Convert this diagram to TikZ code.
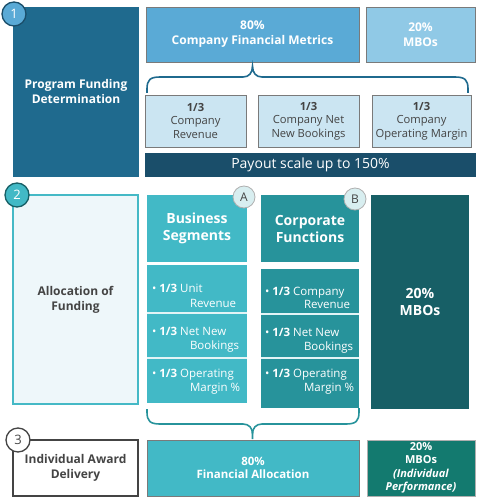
\documentclass[tikz,border=0pt]{standalone}
\usepackage{fontspec}
\setmainfont{Open Sans}
\newcommand{\myfs}[2]{\fontsize{#1}{#2}\selectfont}
\definecolor{pfblue}{HTML}{1F6A8E}
\definecolor{fmblue}{HTML}{5AAAD6}
\definecolor{mbblue}{HTML}{90C9E6}
\definecolor{subblue}{HTML}{CBE5F2}
\definecolor{payblue}{HTML}{1A4E6A}
\definecolor{afill}{HTML}{EEF7FA}
\definecolor{aborder}{HTML}{45B9C6}
\definecolor{segteal}{HTML}{42B9C6}
\definecolor{corpteal}{HTML}{27939B}
\definecolor{mbteal}{HTML}{175F66}
\definecolor{mbgreen}{HTML}{137A6F}
\definecolor{circfill}{HTML}{D8EEF0}
\definecolor{darktext}{HTML}{444444}
\definecolor{gborder}{HTML}{7A7A7A}
\begin{document}
\begin{tikzpicture}[x=1pt,y=-1pt,
  every node/.style={inner sep=0pt, outer sep=0pt, align=center},
  pfbox/.style={fill=pfblue, text=white, font=\bfseries\myfs{12}{15}},
  fmbox/.style={fill=fmblue, draw=gborder, line width=0.8pt, text=white, font=\bfseries\myfs{12}{15}},
  mbbox/.style={fill=mbblue, draw=gborder, line width=0.8pt, text=white, font=\bfseries\myfs{12}{15}},
  subbox/.style={fill=subblue, draw=gborder, line width=0.8pt, text=darktext, font=\myfs{11.2}{13.5}},
  paybox/.style={fill=payblue, text=white, font=\myfs{14}{16}},
  afbox/.style={fill=afill, draw=aborder, line width=1.2pt, text=darktext, font=\bfseries\myfs{12}{15}},
  seghead/.style={fill=segteal, text=white, font=\bfseries\myfs{14}{17}},
  corphead/.style={fill=corpteal, text=white, font=\bfseries\myfs{14}{17}},
  segitems/.style={fill=segteal},
  corpitems/.style={fill=corpteal},
  mbtealbox/.style={fill=mbteal, text=white, font=\bfseries\myfs{14}{17}},
  iadbox/.style={fill=white, draw=darktext, line width=1.2pt, text=darktext, font=\bfseries\myfs{12}{15}},
  fabox/.style={fill=segteal, draw=gborder, line width=0.8pt, text=white, font=\bfseries\myfs{11.5}{13.5}},
  mbgbox/.style={fill=mbgreen, draw=gborder!60, line width=0.8pt, text=white, font=\bfseries\myfs{11}{13.5}},
  itemtext/.style={anchor=base west, text=white, font=\myfs{11.5}{14}},
  divider/.style={draw=white!85!segteal, line width=1.2pt},
  numcirc/.style={circle, minimum size=24pt, line width=1.3pt, font=\myfs{13}{13}},
  letcirc/.style={circle, minimum size=22pt, fill=circfill, draw=gborder!60, line width=0.8pt, text=darktext, font=\myfs{12}{12}},
  brace1/.style={draw=pfblue, line width=1.6pt},
  brace2/.style={draw=corpteal, line width=1.6pt}
]
\useasboundingbox (0,0) rectangle (476,497);

% ---------- Section 1 ----------
\node[pfbox, minimum width=126pt, minimum height=170pt] (pf) at (76,92) {Program Funding\\Determination};
\node[fmbox, minimum width=213pt, minimum height=55pt] (fm) at (252.5,34.5) {80\%\\Company Financial Metrics};
\node[mbbox, minimum width=109pt, minimum height=55pt] (mb1) at (420.5,34.5) {20\%\\MBOs};
\node[subbox, minimum width=101pt, minimum height=52pt] (s1) at (195.5,121) {\textbf{1/3}\\Company\\Revenue};
\node[subbox, minimum width=101pt, minimum height=52pt] (s2) at (308.5,121) {\textbf{1/3}\\Company Net\\New Bookings};
\node[subbox, minimum width=99pt, minimum height=52pt] (s3) at (421.5,121) {\textbf{1/3}\\Company\\Operating Margin};
\node[paybox, minimum width=331pt, minimum height=24pt] (pay) at (310.5,165) {Payout scale up to 150\%};

\coordinate (b1l) at (147,93);
\coordinate (b1t) at (252.5,66);
\coordinate (b1r) at (468,93);
\draw[brace1] (b1l) -- (147,89) .. controls (147,80) and (150,77) .. (160,77) -- (243,77)
  .. controls (249,77) and (252.5,73) .. (b1t)
  .. controls (252.5,73) and (256,77) .. (262,77) -- (455,77)
  .. controls (465,77) and (468,80) .. (468,89) -- (b1r);

\node[numcirc, fill=fmblue, draw=payblue, text=white] (c1) at (14,14) {1};

% ---------- Section 2 ----------
\node[afbox, minimum width=125pt, minimum height=209pt] (af) at (75.5,299.5) {Allocation of\\Funding};
\node[seghead, minimum width=100pt, minimum height=67pt] (bsh) at (197,228.5) {Business\\Segments};
\node[segitems, minimum width=100pt, minimum height=138pt] (bsi) at (197,334) {};
\node[corphead, minimum width=98pt, minimum height=67pt] (cfh) at (310,228.5) {Corporate\\Functions};
\node[corpitems, minimum width=98pt, minimum height=139pt] (cfi) at (310,338.5) {};
\node[mbtealbox, minimum width=98pt, minimum height=214pt] (mb2) at (420,302) {20\%\\MBOs};

\draw[divider] (bsi.west |- 0,313) -- (bsi.east |- 0,313);
\draw[divider] (bsi.west |- 0,358) -- (bsi.east |- 0,358);
\draw[divider] (cfi.west |- 0,314) -- (cfi.east |- 0,314);
\draw[divider] (cfi.west |- 0,358) -- (cfi.east |- 0,358);

% items A
\node[itemtext] (a1) at (152,292) {\textbullet\hspace{3pt}\textbf{1/3} Unit};
\node[itemtext] (a1b) at (190,307) {Revenue};
\node[itemtext] (a2) at (152,335) {\textbullet\hspace{3pt}\textbf{1/3} Net New};
\node[itemtext] (a2b) at (190,349) {Bookings};
\node[itemtext] (a3) at (152,377) {\textbullet\hspace{3pt}\textbf{1/3} Operating};
\node[itemtext] (a3b) at (190,391) {Margin \%};
% items B
\node[itemtext] (bb1) at (265,295) {\textbullet\hspace{3pt}\textbf{1/3} Company};
\node[itemtext] (bb1b) at (304,308) {Revenue};
\node[itemtext] (bb2) at (265,336) {\textbullet\hspace{3pt}\textbf{1/3} Net New};
\node[itemtext] (bb2b) at (304,350) {Bookings};
\node[itemtext] (bb3) at (265,377) {\textbullet\hspace{3pt}\textbf{1/3} Operating};
\node[itemtext] (bb3b) at (304,391) {Margin \%};

\node[letcirc] (cA) at (244,197) {A};
\node[letcirc] (cB) at (355,199) {B};
\node[numcirc, fill=segteal, draw=mbteal, text=white] (c2) at (17,195) {2};

\coordinate (b2l) at (147,409);
\coordinate (b2t) at (252.5,439);
\coordinate (b2r) at (359,408);
\draw[brace2] (b2l) -- (147,412) .. controls (147,421) and (150,424) .. (160,424) -- (243,424)
  .. controls (249,424) and (252.5,428) .. (252.5,434) -- (b2t);
\draw[brace2] (252.5,434) .. controls (252.5,428) and (256,424) .. (262,424) -- (346,424)
  .. controls (356,424) and (359,421) .. (359,412) -- (b2r);

% ---------- Section 3 ----------
\node[iadbox, minimum width=125pt, minimum height=56pt] (iad) at (75.5,468) {Individual Award\\Delivery};
\node[fabox, minimum width=212pt, minimum height=56pt] (fa) at (253,468) {80\%\\Financial Allocation};
\node[mbgbox, minimum width=108pt, minimum height=56pt] (mb3) at (421,468) {20\%\\MBOs\\\textit{(Individual}\\\textit{Performance)}};
\node[numcirc, fill=white, draw=darktext, text=darktext] (c3) at (18,440) {3};
\end{tikzpicture}
\end{document}
